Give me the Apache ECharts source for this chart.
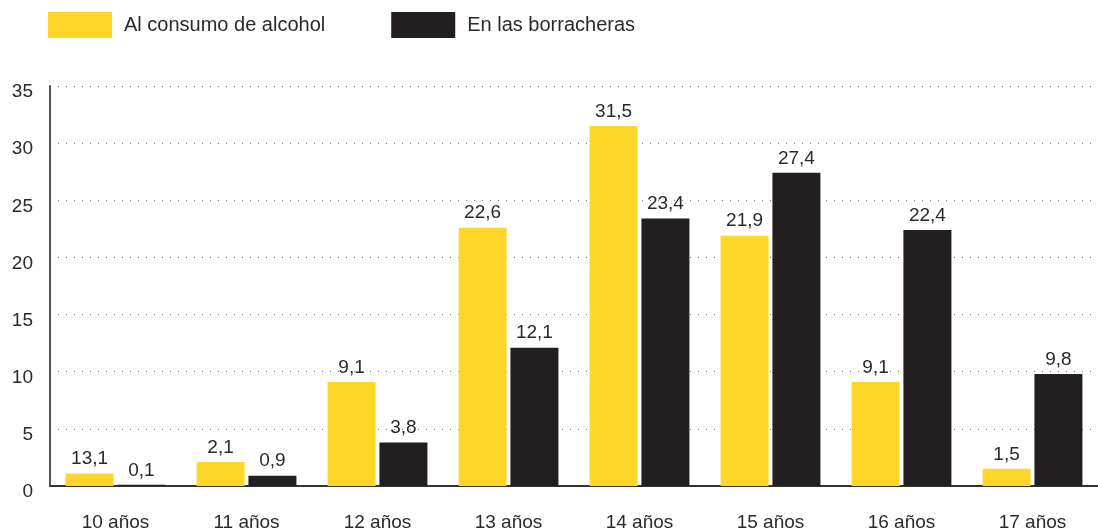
<!DOCTYPE html>
<html>
<head>
<meta charset="utf-8">
<script src="https://cdn.jsdelivr.net/npm/echarts@6/dist/echarts.min.js"></script>
<style>
	html, body { margin: 0; padding: 0; background: #fff; }
	#container { width: 1098px; height: 532px; }
</style>
</head>
<body>
<div id="container"></div>
<script>
	var categories = ['10 años', '11 años', '12 años', '13 años', '14 años', '15 años', '16 años', '17 años'];
	var alcoholValues = [1.1, 2.1, 9.1, 22.6, 31.5, 21.9, 9.1, 1.5];
	// the printed labels (first one reads 13,1 in the source although the bar is ~1)
	var alcoholLabels = ['13,1', '2,1', '9,1', '22,6', '31,5', '21,9', '9,1', '1,5'];
	var bingeValues = [0.1, 0.9, 3.8, 12.1, 23.4, 27.4, 22.4, 9.8];
	var yTicks = [0, 5, 10, 15, 20, 25, 30, 35];

	var fontFam = 'Liberation Sans, Arial, sans-serif';
	var textColor = '#2a2a2a';

	function comma(v) {
		return String(v).replace('.', ',');
	}

	var myChart = echarts.init(document.getElementById('container'));

	var option = {
		animation: false,
		textStyle: { fontFamily: fontFam },
		legend: {
			left: 48,
			top: 12,
			padding: 0,
			itemWidth: 64,
			itemHeight: 26,
			itemGap: 66,
			icon: 'rect',
			textStyle: { fontSize: 20, color: textColor, fontFamily: fontFam, padding: [0, 0, 0, 7] },
			data: ['Al consumo de alcohol', 'En las borracheras']
		},
		grid: {
			left: 50,
			top: 86,
			width: 1053,
			bottom: 40,
			containLabel: false
		},
		xAxis: {
			type: 'category',
			data: categories,
			axisLine: { lineStyle: { color: '#333', width: 2 } },
			axisTick: { inside: true, length: 5, lineStyle: { color: '#333' } },
			axisLabel: { fontSize: 19, color: textColor, margin: 27 }
		},
		yAxis: {
			type: 'value',
			min: yTicks[0],
			max: yTicks[yTicks.length - 1],
			interval: 5,
			axisLine: { show: true, lineStyle: { color: '#555', width: 2 } },
			axisTick: { show: false },
			// labels sit a little below their gridline in the original
			axisLabel: { fontSize: 19, color: textColor, margin: 17, verticalAlign: 'top', lineHeight: 12 },
			splitLine: { lineStyle: { color: '#777', type: [1, 7], width: 1 } }
		},
		series: [{
			name: 'Al consumo de alcohol',
			type: 'bar',
			data: alcoholValues,
			barWidth: 48,
			barGap: '8%',
			itemStyle: { color: '#FDD627' },
			label: {
				show: true,
				position: 'top',
				distance: 5,
				fontSize: 19,
				color: textColor,
				formatter: function (p) { return alcoholLabels[p.dataIndex]; }
			}
		}, {
			name: 'En las borracheras',
			type: 'bar',
			data: bingeValues,
			barWidth: 48,
			itemStyle: { color: '#231F20' },
			label: {
				show: true,
				position: 'top',
				distance: 5,
				fontSize: 19,
				color: textColor,
				formatter: function (p) { return comma(p.value); }
			}
		}]
	};

	myChart.setOption(option);
</script>
</body>
</html>
